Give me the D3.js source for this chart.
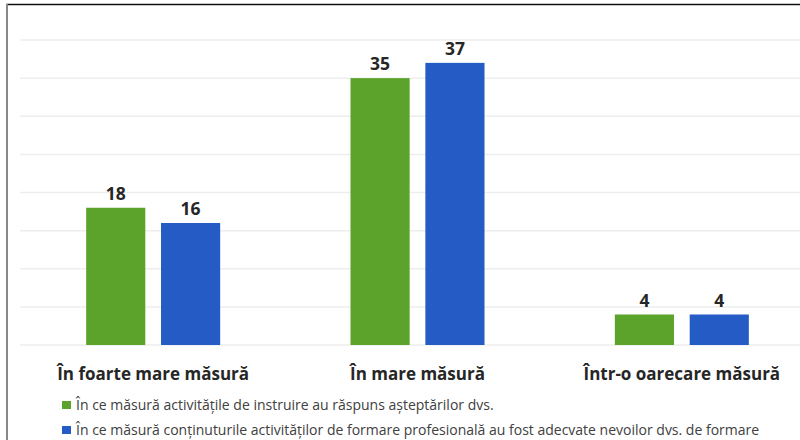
<!DOCTYPE html>
<html>
<head>
  <meta charset="utf-8">
  <script src="https://cdnjs.cloudflare.com/ajax/libs/d3/7.8.5/d3.min.js"></script>
  <style>
    body { margin: 0; background: #fff; }
    svg { display: block; font-family: "Open Sans", "Noto Sans", sans-serif; }
    .grid line { stroke: #eeeeee; stroke-width: 1.5px; }
    .value { font-weight: bold; font-size: 17.5px; fill: #262626; text-anchor: middle; }
    .cat { font-weight: bold; font-size: 17px; fill: #262626; text-anchor: middle; }
    .legend text { font-size: 14px; fill: #404040; }
  </style>
</head>
<body>
  <svg width="800" height="440"></svg>
  <script>
    var categories = ["În foarte mare măsură", "În mare măsură", "Într-o oarecare măsură"];
    var seriesNames = [
      "În ce măsură activitățile de instruire au răspuns așteptărilor dvs.",
      "În ce măsură conținuturile activităților de formare profesională au fost adecvate nevoilor dvs. de formare"
    ];
    var seriesA = [18, 35, 4];
    var seriesB = [16, 37, 4];
    var colors = ["#5ba32b", "#245bc4"];
    var yTicks = [0, 5, 10, 15, 20, 25, 30, 35, 40];

    var svg = d3.select("svg");

    // frame (cropped screenshot edge)
    svg.append("line").attr("x1", 6).attr("x2", 800).attr("y1", 4.5).attr("y2", 4.5)
      .attr("stroke", "#111").attr("stroke-width", 1.5);
    svg.append("line").attr("x1", 7).attr("x2", 7).attr("y1", 4).attr("y2", 440)
      .attr("stroke", "#888").attr("stroke-width", 2);

    var x0 = d3.scaleBand().domain(categories).range([21, 814]).paddingInner(0).paddingOuter(0);
    var x1 = d3.scaleBand().domain([0, 1]).range([x0.bandwidth() / 2 - 67, x0.bandwidth() / 2 + 67]).paddingInner(0.21).paddingOuter(0);
    var y = d3.scaleLinear().domain([0, 40]).range([345, 40]);

    svg.append("g").attr("class", "grid")
      .selectAll("line").data(yTicks).enter().append("line")
      .attr("x1", 20).attr("x2", 800)
      .attr("y1", d => y(d)).attr("y2", d => y(d));

    var rows = categories.map((c, i) => ({cat: c, vals: [seriesA[i], seriesB[i]]}));

    var groups = svg.append("g").selectAll("g").data(rows).enter().append("g")
      .attr("transform", d => "translate(" + x0(d.cat) + ",0)");

    groups.selectAll("rect").data(d => d.vals).enter().append("rect")
      .attr("x", (d, i) => x1(i))
      .attr("width", x1.bandwidth())
      .attr("y", d => y(d))
      .attr("height", d => y(0) - y(d))
      .attr("fill", (d, i) => colors[i]);

    groups.selectAll("text.value").data(d => d.vals).enter().append("text")
      .attr("class", "value")
      .attr("x", (d, i) => x1(i) + x1.bandwidth() / 2)
      .attr("y", d => y(d) - 8)
      .text(d => d);

    svg.append("g").selectAll("text").data(categories).enter().append("text")
      .attr("class", "cat")
      .attr("x", d => x0(d) + x0.bandwidth() / 2)
      .attr("y", 380)
      .text(d => d);

    var legend = svg.append("g").attr("class", "legend")
      .selectAll("g").data(seriesNames).enter().append("g")
      .attr("transform", (d, i) => "translate(62," + (401 + i * 25) + ")");
    legend.append("rect").attr("width", 9).attr("height", 8).attr("fill", (d, i) => colors[i]);
    legend.append("text").attr("x", 14).attr("y", 9).text(d => d);
  </script>
</body>
</html>
